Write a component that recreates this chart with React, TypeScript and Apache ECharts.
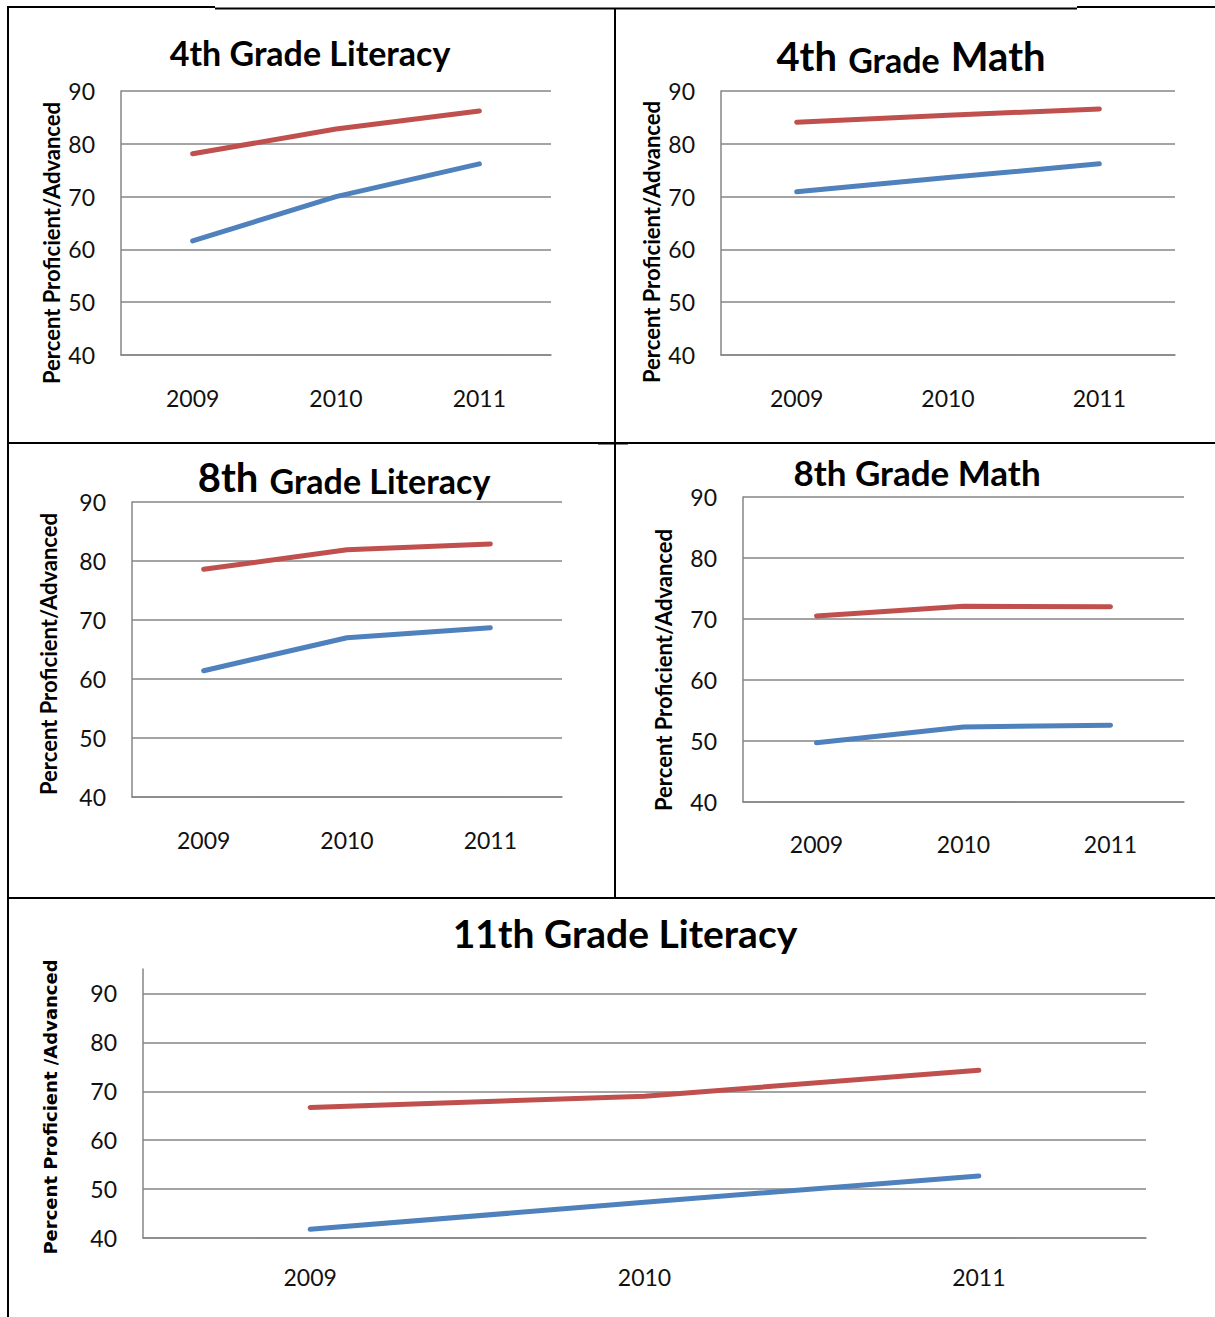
import React, { useEffect, useRef } from "react";
import * as echarts from "echarts";

// ---- data ----
const categories = ["2009", "2010", "2011"];
const yMin = 40;
const yMax = 90;
const yInterval = 10;

const lit4Red = [78.1, 82.8, 86.2];
const lit4Blue = [61.6, 70.0, 76.2];
const math4Red = [84.1, 85.4, 86.6];
const math4Blue = [70.9, 73.6, 76.2];
const lit8Red = [78.6, 81.9, 82.9];
const lit8Blue = [61.4, 67.0, 68.7];
const math8Red = [70.5, 72.1, 72.0];
const math8Blue = [49.7, 52.3, 52.6];
const lit11Red = [66.7, 69.0, 74.3];
const lit11Blue = [41.8, 47.3, 52.7];

const yTitle = "Percent Proficient/Advanced";
const yTitle11 = "Percent Proficient /Advanced";

const RED = "#C0504D";
const BLUE = "#4F81BD";
const GRID = "#868686";
const FONT = "Lato, 'Open Sans', sans-serif";

type Panel = {
  grid: { left: number; top: number; width: number; height: number };
  red: number[];
  blue: number[];
  max: number;
  labelMargin: number;
};

const panels: Panel[] = [
  { grid: { left: 121, top: 91, width: 430, height: 264 }, red: lit4Red, blue: lit4Blue, max: yMax, labelMargin: 31 },
  { grid: { left: 721, top: 91, width: 454, height: 264 }, red: math4Red, blue: math4Blue, max: yMax, labelMargin: 31 },
  { grid: { left: 132, top: 502, width: 430, height: 295 }, red: lit8Red, blue: lit8Blue, max: yMax, labelMargin: 31 },
  { grid: { left: 743, top: 497, width: 441, height: 305 }, red: math8Red, blue: math8Blue, max: yMax, labelMargin: 30 },
  { grid: { left: 143, top: 969, width: 1003, height: 269 }, red: lit11Red, blue: lit11Blue, max: 95, labelMargin: 27 },
];

export default function App() {
  const ref = useRef<HTMLDivElement>(null);

  useEffect(() => {
    if (!ref.current) return;
    const chart = echarts.init(ref.current, null, { renderer: "svg" });

    const grids = panels.map((p) => ({ ...p.grid, containLabel: false }));
    const xAxes = panels.map((p, i) => ({
      type: "category",
      gridIndex: i,
      data: categories,
      boundaryGap: true,
      axisTick: { show: false },
      axisLine: { show: true, lineStyle: { color: GRID, width: 1.5 } },
      axisLabel: { margin: p.labelMargin, fontSize: 23, fontFamily: FONT, color: "#111" },
      splitLine: { show: false },
    }));
    const yAxes = panels.map((p, i) => ({
      type: "value",
      gridIndex: i,
      min: yMin,
      max: p.max,
      interval: yInterval,
      axisTick: { show: false },
      axisLine: { show: true, lineStyle: { color: GRID, width: 1.5 } },
      axisLabel: { margin: 26, fontSize: 23, fontFamily: FONT, color: "#111", showMaxLabel: p.max === yMax },
      splitLine: { show: true, showMaxLine: p.max === yMax, lineStyle: { color: GRID, width: 1.5 } },
    }));
    const series: any[] = [];
    panels.forEach((p, i) => {
      series.push({
        name: "Series1",
        type: "line",
        xAxisIndex: i,
        yAxisIndex: i,
        data: p.blue,
        symbol: "none",
        lineStyle: { color: BLUE, width: 5, cap: "round", join: "round" },
        itemStyle: { color: BLUE },
      });
      series.push({
        name: "Series2",
        type: "line",
        xAxisIndex: i,
        yAxisIndex: i,
        data: p.red,
        symbol: "none",
        lineStyle: { color: RED, width: 5, cap: "round", join: "round" },
        itemStyle: { color: RED },
      });
    });

    const bigSmall = (big: number, small: number) => ({
      a: { fontSize: big, fontWeight: "bold", fontFamily: FONT, color: "#000", verticalAlign: "bottom" },
      b: { fontSize: small, fontWeight: "bold", fontFamily: FONT, color: "#000", verticalAlign: "bottom" },
    });

    const titles = [
      { text: "4th Grade Literacy", left: 310, top: 52, textStyle: { fontSize: 34, fontWeight: "bold", fontFamily: FONT, color: "#000" } },
      { text: "{a|4th} {b|Grade} {a|Math}", left: 911, top: 56, textStyle: { rich: bigSmall(40, 34), fontSize: 40 } },
      { text: "{a|8th} {b|Grade Literacy}", left: 344, top: 477, textStyle: { rich: bigSmall(40, 34), fontSize: 40 } },
      { text: "8th Grade Math", left: 917, top: 472, textStyle: { fontSize: 35, fontWeight: "bold", fontFamily: FONT, color: "#000" } },
      { text: "11th Grade Literacy", left: 625, top: 933, textStyle: { fontSize: 39, fontWeight: "bold", fontFamily: FONT, color: "#000" } },
    ].map((t) => ({ ...t, padding: 0, textAlign: "center", textVerticalAlign: "middle" }));

    const yNames = [
      { x: 51, y: 243, text: yTitle, font: "bold 22px " + FONT },
      { x: 651, y: 242, text: yTitle, font: "bold 22px " + FONT },
      { x: 48, y: 654, text: yTitle, font: "bold 22px " + FONT },
      { x: 663, y: 670, text: yTitle, font: "bold 22px " + FONT },
      { x: 50, y: 1107, text: yTitle11, font: "bold 18px 'DejaVu Sans', sans-serif" },
    ].map((n) => ({
      type: "text",
      x: n.x,
      y: n.y,
      rotation: Math.PI / 2,
      style: { text: n.text, font: n.font, fill: "#000", align: "center", verticalAlign: "middle" },
    }));

    const line = (x1: number, y1: number, x2: number, y2: number) => ({
      type: "line",
      shape: { x1, y1, x2, y2 },
      style: { stroke: "#000", lineWidth: 2 },
      silent: true,
    });
    const borders = [
      line(8, 7, 215, 7),
      line(215, 8.5, 1077, 8.5),
      line(1077, 7, 1215, 7),
      line(8, 6, 8, 1317),
      line(615, 8, 615, 898),
      line(8, 443, 1215, 443),
      line(598, 443.5, 628, 443.5),
      line(8, 898, 1215, 898),
    ];

    chart.setOption({
      animation: false,
      backgroundColor: "#fff",
      title: titles,
      grid: grids,
      xAxis: xAxes,
      yAxis: yAxes,
      series,
      graphic: [...borders, ...yNames],
    });

    return () => chart.dispose();
  }, []);

  return (
    <div
      ref={ref}
      style={{ position: "absolute", left: 0, top: 0, width: 1215, height: 1317, background: "#fff" }}
    />
  );
}
